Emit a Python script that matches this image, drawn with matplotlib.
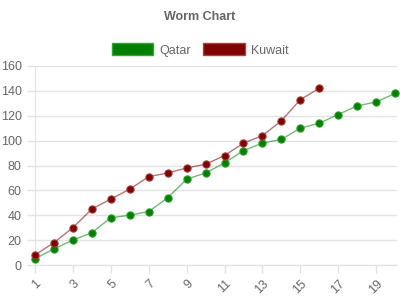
import matplotlib
matplotlib.use("Agg")
import matplotlib.pyplot as plt
from matplotlib.patches import Patch

plt.rcParams['font.family'] = ['Liberation Sans', 'DejaVu Sans']

overs = list(range(1, 21))
qatar = [5, 13, 20, 26, 38, 40, 43, 54, 69, 74, 82, 92, 98, 101, 110, 114, 121, 128, 131, 138]
kuwait = [8, 18, 30, 45, 53, 61, 71, 74, 78, 81, 88, 98, 104, 116, 133, 142]
xticks = list(range(1, 20, 2))
yticks = list(range(0, 161, 20))

green = '#008000'
red = '#800000'
grid = '#e2e2e2'
txt = '#666666'

fig = plt.figure(figsize=(4, 3), dpi=100)
ax = fig.add_axes([35/400, 35/300, 362/400, 199/300])

ax.plot(overs, qatar, color=green, lw=1, alpha=0.55, zorder=2)
ax.plot(overs, qatar, ls='none', marker='o', ms=5.2, mfc=green, mec='#2a9a2a', mew=0.8,
        zorder=3, clip_on=False)
ax.plot(overs[:len(kuwait)], kuwait, color=red, lw=1, alpha=0.55, zorder=2)
ax.plot(overs[:len(kuwait)], kuwait, ls='none', marker='o', ms=5.2, mfc=red, mec='#a03a3a', mew=0.8,
        zorder=3, clip_on=False)

ax.set_xlim(1, 20.1)
ax.set_ylim(0, 160)
ax.set_xticks(xticks)
ax.set_yticks(yticks)
ax.set_xticklabels([str(t) for t in xticks], rotation=45, ha='right', rotation_mode='anchor')
ax.tick_params(axis='both', colors=grid, labelcolor=txt, labelsize=9, length=6, width=1)
ax.tick_params(axis='x', pad=3)
ax.yaxis.grid(True, color=grid, lw=1)
ax.set_axisbelow(True)
for s in ['top', 'right']:
    ax.spines[s].set_visible(False)
for s in ['left', 'bottom']:
    ax.spines[s].set_color(grid)

fig.text(0.5, 1 - 17/300, 'Worm Chart', ha='center', va='center', fontsize=9, fontweight='bold', color=txt)

handles = [Patch(facecolor=green, edgecolor='#3aa03a', label='Qatar'),
           Patch(facecolor=red, edgecolor='#a84444', label='Kuwait')]
fig.legend(handles=handles, loc='center', bbox_to_anchor=(0.5, 1 - 50/300), ncol=2, frameon=False,
           fontsize=9, handlelength=3.3, handleheight=1.1, handletextpad=0.5, columnspacing=1.0,
           labelcolor=txt)

fig.savefig('out.png', dpi=100)
